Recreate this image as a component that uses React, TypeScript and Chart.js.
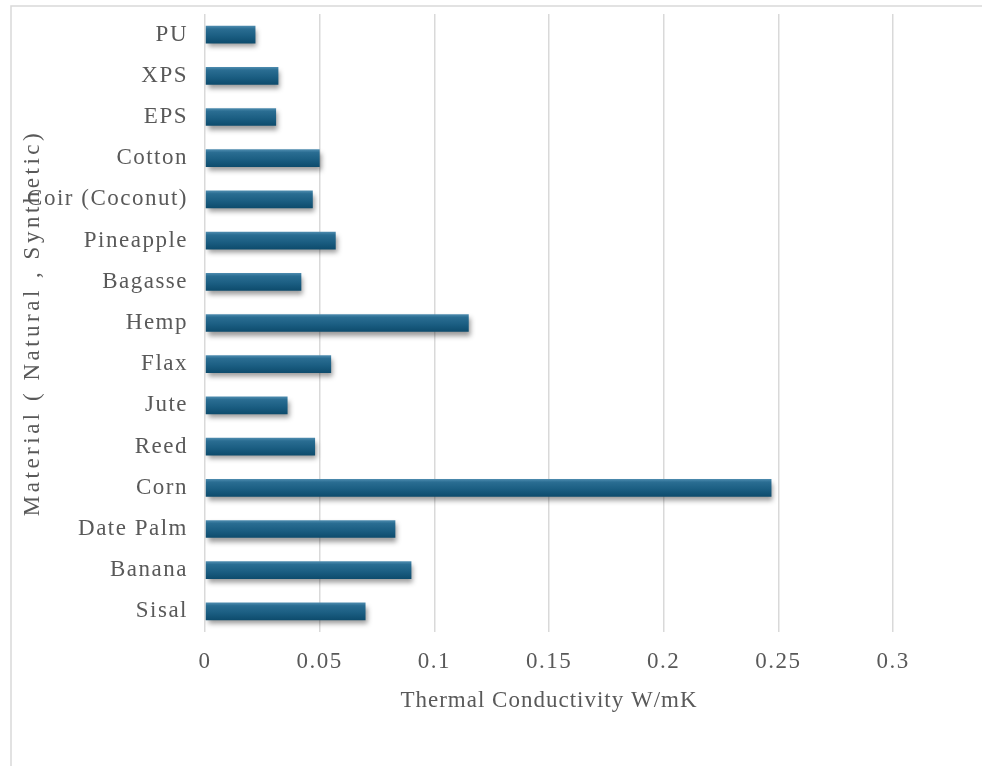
import React, { useEffect, useRef } from "react";
import { Chart, registerables } from "chart.js";

Chart.register(...registerables);

const categories = [
  "PU",
  "XPS",
  "EPS",
  "Cotton",
  "Coir (Coconut)",
  "Pineapple",
  "Bagasse",
  "Hemp",
  "Flax",
  "Jute",
  "Reed",
  "Corn",
  "Date Palm",
  "Banana",
  "Sisal",
];

const conductivity = [
  0.022, 0.032, 0.031, 0.05, 0.047, 0.057, 0.042, 0.115, 0.055, 0.036, 0.048,
  0.247, 0.083, 0.09, 0.07,
];

const xTicks = [0, 0.05, 0.1, 0.15, 0.2, 0.25, 0.3];

const xTitle = "Thermal Conductivity W/mK";
const yTitle = "Material ( Natural , Synthetic)";

const FONT = "'Liberation Serif', 'DejaVu Serif', serif";
const FSIZE = 23;
const SPACING = "1.5px";
const TEXT = "#595959";
const GRID = "#d9d9d9";
const BAR_PCT = 0.43;
const BASE = "#1b5e82";

const spacing = {
  id: "spacing",
  beforeUpdate(chart: any) {
    chart.ctx.letterSpacing = SPACING;
  },
  beforeDraw(chart: any) {
    chart.ctx.letterSpacing = SPACING;
  },
};

function wrapTitleSpacing(s: any, sp: string) {
  if (s.__wrapped) return;
  const orig = s.drawTitle;
  s.drawTitle = function (...args: any[]) {
    const c = this.ctx;
    const prev = c.letterSpacing;
    c.letterSpacing = sp;
    orig.apply(this, args);
    c.letterSpacing = prev;
  };
  s.__wrapped = true;
}

const frame = {
  id: "frame",
  beforeDraw(chart: any) {
    const { ctx, width, height } = chart;
    ctx.save();
    ctx.strokeStyle = GRID;
    ctx.lineWidth = 1.5;
    ctx.beginPath();
    ctx.moveTo(width, 6);
    ctx.lineTo(11, 6);
    ctx.lineTo(11, height);
    ctx.stroke();
    ctx.restore();
  },
};

const shadow = {
  id: "barShadow",
  beforeDatasetsDraw(chart: any) {
    const ctx = chart.ctx;
    ctx.save();
    ctx.shadowColor = "rgba(0,0,0,0.4)";
    ctx.shadowBlur = 5;
    ctx.shadowOffsetX = 2;
    ctx.shadowOffsetY = 4;
  },
  afterDatasetsDraw(chart: any) {
    chart.ctx.restore();
  },
};

export default function App() {
  const ref = useRef<HTMLCanvasElement | null>(null);

  useEffect(() => {
    if (!ref.current) return;
    const chart = new Chart(ref.current, {
      type: "bar",
      data: {
        labels: categories,
        datasets: [
          {
            data: conductivity,
            backgroundColor: (c: any) => {
              const ch = c.chart;
              const y = ch.scales && ch.scales.y;
              if (!y || typeof c.dataIndex !== "number") return BASE;
              const center = y.getPixelForValue(c.dataIndex);
              const row = Math.abs(y.getPixelForValue(1) - y.getPixelForValue(0));
              const h = row * BAR_PCT;
              if (!isFinite(center) || !isFinite(h) || h <= 0) return BASE;
              const g = ch.ctx.createLinearGradient(0, center - h / 2, 0, center + h / 2);
              g.addColorStop(0, "#4f8db0");
              g.addColorStop(0.18, "#2a6d92");
              g.addColorStop(0.6, "#1a5d81");
              g.addColorStop(1, "#0d4b6c");
              return g;
            },
            borderWidth: 0,
            barPercentage: BAR_PCT,
            categoryPercentage: 1,
          },
        ],
      },
      options: {
        indexAxis: "y",
        responsive: false,
        animation: false,
        devicePixelRatio: 1,
        layout: { padding: { left: 0, right: 89, top: 14, bottom: 0 } },
        plugins: {
          legend: { display: false },
          tooltip: { enabled: false },
        },
        scales: {
          x: {
            type: "linear",
            min: 0,
            max: 0.3,
            afterBuildTicks: (s: any) => {
              s.ticks = xTicks.map((v) => ({ value: v }));
            },
            afterFit: (s: any) => {
              s.height = 134;
              s.paddingLeft = 0;
              s.paddingRight = 0;
              wrapTitleSpacing(s, "1px");
            },
            ticks: {
              color: TEXT,
              font: { family: FONT, size: FSIZE },
              padding: 16,
              maxRotation: 0,
              autoSkip: false,
              callback: (v: any) => String(Number(v)),
            },
            grid: {
              color: GRID,
              lineWidth: 1.5,
              drawTicks: false,
            },
            border: { display: false },
            title: {
              display: true,
              text: xTitle,
              color: TEXT,
              font: { family: FONT, size: FSIZE },
              padding: { top: 12, bottom: 51 },
            },
          },
          y: {
            type: "category",
            afterFit: (s: any) => {
              s.width = 205;
              s.paddingTop = 0;
              s.paddingBottom = 0;
              wrapTitleSpacing(s, "3.5px");
            },
            ticks: {
              color: TEXT,
              font: { family: FONT, size: FSIZE },
              padding: 17,
              autoSkip: false,
            },
            grid: { display: false, drawTicks: false },
            border: { display: false },
            title: {
              display: true,
              text: yTitle,
              color: TEXT,
              font: { family: FONT, size: FSIZE },
              padding: { top: 19, bottom: 0 },
            },
          },
        },
      },
      plugins: [spacing, frame, shadow],
    });
    return () => chart.destroy();
  }, []);

  return (
    <div style={{ position: "fixed", left: 0, top: 0, width: 982, height: 766, background: "#fff" }}>
      <canvas ref={ref} width={982} height={766} style={{ display: "block" }} />
    </div>
  );
}
